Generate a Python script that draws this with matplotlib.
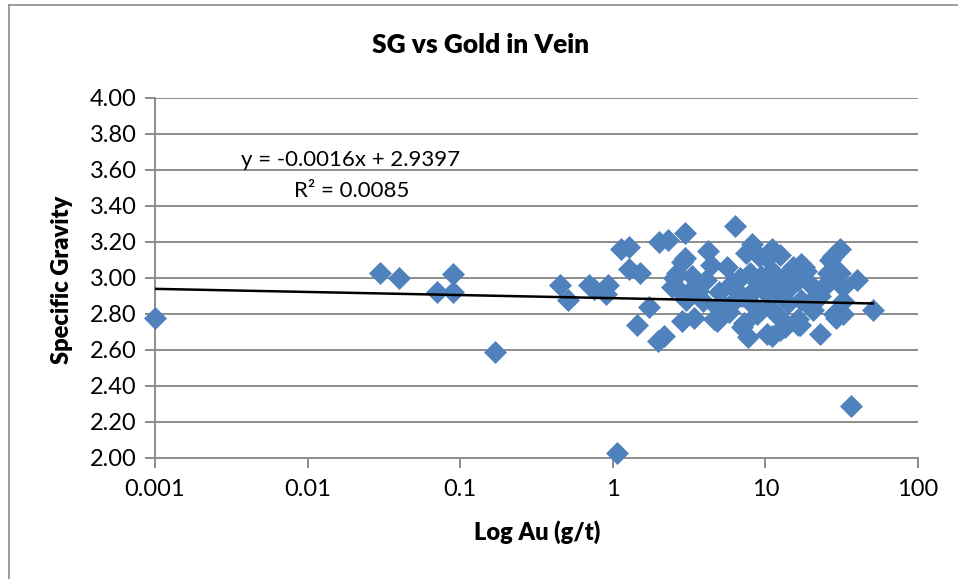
import numpy as np
import matplotlib.pyplot as plt
from matplotlib.lines import Line2D
from matplotlib.ticker import FixedLocator, FixedFormatter, NullLocator

plt.rcParams['font.family'] = ['Lato', 'DejaVu Sans']

# gold grade (g/t) and specific gravity of vein samples
au = [0.001, 0.03, 0.04, 0.07, 0.09, 0.09, 0.17, 0.45, 0.51, 0.70, 0.75, 0.90, 0.93,
      1.065, 36.4,
      1.14, 1.27, 1.27, 1.50, 1.73, 1.45, 1.99, 2.17, 2.02, 2.30, 2.99, 6.3,
      2.62, 2.82, 2.99, 2.43, 2.77, 3.0, 2.82, 3.4, 4.2, 4.4, 4.1, 3.3, 3.6,
      3.9, 4.8, 4.8, 5.6, 6.0, 6.3, 5.8, 7.2, 7.7, 8.2, 7.5, 9.1, 11.0, 12.4,
      7.9, 9.4, 11.0, 8.5, 10.0, 11.8, 10.5, 10.2, 11.0, 12.4, 13.5, 16.3,
      15.2, 17.8, 16.3, 19.4, 14.4, 17.2, 20.5, 22.7, 22.7, 27.8, 30.9, 29.2,
      25.8, 26.3, 39.6, 32.4, 28.2, 32.4, 50.7, 10.2, 17.0, 5.2, 6.5, 4.6,
      7.0, 12.4, 16.3, 26.5, 32.4, 30.9, 29.0, 16.8, 18.5, 20.5, 21.5,
      2.5, 3.5, 5.0, 7.0, 8.0, 9.0, 12.0, 14.0, 13.0, 6.8, 8.8, 24.0]
sg = [2.78, 3.03, 3.00, 2.92, 3.02, 2.92, 2.59, 2.96, 2.88, 2.96, 2.94, 2.91, 2.96,
      2.03, 2.29,
      3.16, 3.17, 3.05, 3.03, 2.84, 2.74, 2.65, 2.68, 3.20, 3.21, 3.25, 3.29,
      3.03, 3.09, 3.11, 2.95, 2.93, 2.88, 2.76, 2.78, 3.15, 3.07, 2.99, 3.01, 2.93,
      2.87, 2.76, 2.84, 3.06, 2.97, 2.88, 2.81, 2.75, 2.67, 3.19, 3.14, 3.12, 3.16, 3.13,
      3.03, 3.01, 3.04, 2.94, 2.92, 2.97, 2.84, 2.69, 2.68, 2.78, 2.73, 2.74,
      3.06, 3.06, 2.99, 2.97, 2.95, 2.88, 2.86, 2.69, 2.90, 3.12, 3.16, 3.04,
      3.03, 2.98, 2.99, 2.87, 2.80, 2.80, 2.82, 3.11, 3.08, 2.86, 2.92, 2.77,
      2.73, 2.71, 2.77, 3.10, 2.95, 3.03, 2.78, 2.74, 3.04, 2.82, 2.90,
      3.00, 2.96, 2.92, 2.90, 2.86, 2.97, 2.92, 2.86, 3.00, 3.00, 2.80, 2.95]

# Excel linear trendline coefficients
slope = -0.0016
intercept = 2.9397
r2 = 0.0085

x_ticks = [0.001, 0.01, 0.1, 1, 10, 100]
x_labels = ['0.001', '0.01', '0.1', '1', '10', '100']
y_ticks = np.arange(2.0, 4.01, 0.2)

fig = plt.figure(figsize=(9.58, 5.79), dpi=100)
ax = fig.add_axes([155 / 958, 1 - 458 / 579, (918 - 155) / 958, (458 - 98) / 579])

grid_c = '#8c8c8c'
ax.set_xscale('log')
ax.set_xlim(0.001, 100)
ax.set_ylim(2.0, 4.0)
for yv in y_ticks[1:]:
    ax.axhline(yv, color=grid_c, lw=1.4, zorder=1)

ax.scatter(au, sg, marker='D', s=125, color='#4f81bd', edgecolors='#4f81bd',
           linewidths=0.5, zorder=3, clip_on=False)

# trendline drawn between its two end points, as Excel does on a log axis
xt = np.array([0.001, max(au)])
ax.plot(xt, slope * xt + intercept, color='black', lw=1.8, zorder=4)

for s in ['top', 'right']:
    ax.spines[s].set_visible(False)
for s in ['left', 'bottom']:
    ax.spines[s].set_color(grid_c)
    ax.spines[s].set_linewidth(1.4)

ax.xaxis.set_major_locator(FixedLocator(x_ticks))
ax.xaxis.set_major_formatter(FixedFormatter(x_labels))
ax.xaxis.set_minor_locator(NullLocator())
ax.set_yticks(y_ticks)
ax.set_yticklabels(['%.2f' % v for v in y_ticks])
ax.tick_params(axis='both', direction='out', length=7, width=1.4, color=grid_c,
               labelsize=17, labelcolor='black')
ax.tick_params(axis='x', pad=8)
ax.tick_params(axis='y', pad=6)

fig.text(481 / 958, 1 - 45 / 579, 'SG vs Gold in Vein', ha='center', va='center',
         fontsize=19, fontweight='heavy')
fig.text(537 / 958, 1 - 532 / 579, 'Log Au (g/t)', ha='center', va='center',
         fontsize=17, fontweight='heavy')
fig.text(62 / 958, 1 - 280 / 579, 'Specific Gravity', ha='center', va='center',
         fontsize=17, fontweight='heavy', rotation=90)

fig.text(351 / 958, 1 - 160 / 579, 'y = %.4fx + %.4f' % (slope, intercept),
         ha='center', va='center', fontsize=16)
fig.text(352 / 958, 1 - 191 / 579, 'R² = %.4f' % r2, ha='center', va='center',
         fontsize=16)

# chart area border
fig.add_artist(Line2D([9 / 958, 9 / 958], [0, 1 - 5 / 579], color='#8c8c8c', lw=1.2))
fig.add_artist(Line2D([9 / 958, 1], [1 - 5 / 579, 1 - 5 / 579], color='#8c8c8c', lw=1.2))

fig.savefig('out.png', dpi=100)
